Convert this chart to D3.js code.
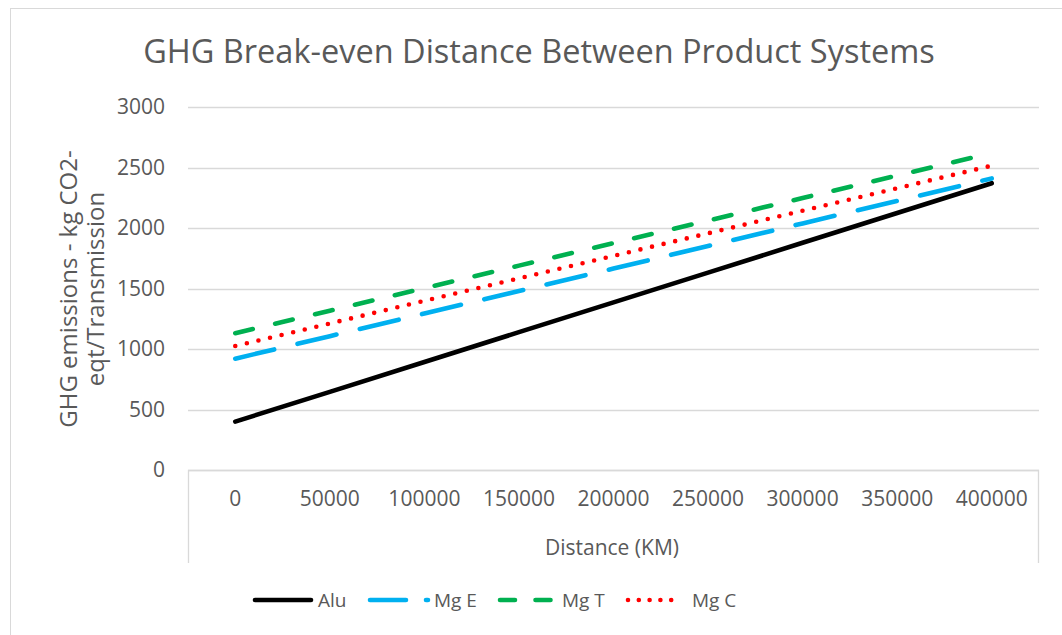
<!DOCTYPE html>
<html>
<head>
<meta charset="utf-8">
<script src="https://cdn.jsdelivr.net/npm/d3@7"></script>
<style>
  body { margin: 0; background: #fff; }
  text { font-family: "Open Sans", sans-serif; fill: #595959; }
</style>
</head>
<body>
<div id="chart"></div>
<script>
// distances (KM) on the category axis
const distances = [0, 50000, 100000, 150000, 200000, 250000, 300000, 350000, 400000];

// GHG emissions, kg CO2-eqt / transmission
const alu = [400, 646, 893, 1139, 1385, 1631, 1878, 2124, 2370];
const mgE = [920, 1106, 1293, 1479, 1665, 1851, 2038, 2224, 2410];
const mgT = [1130, 1316, 1503, 1689, 1875, 2061, 2248, 2434, 2620];
const mgC = [1025, 1211, 1398, 1584, 1770, 1956, 2143, 2329, 2515];

const yTicks = [0, 500, 1000, 1500, 2000, 2500, 3000];

const series = [
    { name: "Alu", values: alu, color: "#000000", dash: null, legendDash: null },
    { name: "Mg E", values: mgE, color: "#00b0f0", dash: "40,24", legendDash: "36,20" },
    { name: "Mg T", values: mgT, color: "#00b050", dash: "18,23", legendDash: "15,20.5" },
    { name: "Mg C", values: mgC, color: "#ff0000", dash: "0,11.9", legendDash: "0,10.8" }
];

let w = 1062;
let h = 635;

let svg = d3.select("#chart")
    .append("svg")
    .attr("width", w)
    .attr("height", h);

// chart area border
svg.append("rect")
    .attr("x", 10.5)
    .attr("y", 8.5)
    .attr("width", w + 10)
    .attr("height", h + 10)
    .attr("fill", "#fff")
    .attr("stroke", "#d9d9d9")
    .attr("stroke-width", 1);

const plotL = 188, plotR = 1039, plotT = 107, plotB = 470;

const x = d3.scaleBand()
    .domain(distances)
    .range([plotL, plotR])
    .padding(0);

const y = d3.scaleLinear()
    .domain([0, 3000])
    .range([plotB, plotT]);

// gridlines
svg.append("g")
    .selectAll("line")
    .data(yTicks)
    .join("line")
    .attr("x1", plotL)
    .attr("x2", plotR)
    .attr("y1", d => Math.round(y(d)) + 0.5)
    .attr("y2", d => Math.round(y(d)) + 0.5)
    .attr("stroke", "#d9d9d9")
    .attr("stroke-width", 1.3);

// y axis labels
const yAxis = svg.append("g")
    .attr("transform", `translate(${plotL},0)`)
    .call(d3.axisLeft(y).tickValues(yTicks).tickFormat(d3.format("d")).tickSize(0).tickPadding(23));
yAxis.select(".domain").remove();
yAxis.selectAll("text")
    .style("font-family", "'Open Sans', sans-serif")
    .style("font-size", "21px")
    .attr("fill", "#595959");

// category axis box
svg.append("path")
    .attr("d", `M${plotL + 0.5},${plotB + 93} V${plotB + 0.5} H${plotR - 0.5} V${plotB + 93}`)
    .attr("fill", "none")
    .attr("stroke", "#d9d9d9")
    .attr("stroke-width", 1.3);

const xAxis = svg.append("g")
    .attr("transform", `translate(0,${plotB})`)
    .call(d3.axisBottom(x).tickFormat(d3.format("d")).tickSize(0).tickPadding(21));
xAxis.select(".domain").remove();
xAxis.selectAll("text")
    .style("font-family", "'Open Sans', sans-serif")
    .style("font-size", "21px")
    .attr("fill", "#595959");

// lines
const line = d3.line()
    .x((d, i) => x(distances[i]) + x.bandwidth() / 2)
    .y(d => y(d));

svg.append("g")
    .selectAll("path")
    .data(series)
    .join("path")
    .attr("d", d => line(d.values))
    .attr("fill", "none")
    .attr("stroke", d => d.color)
    .attr("stroke-width", 4.6)
    .attr("stroke-linecap", "round")
    .attr("stroke-dasharray", d => d.dash);

// title
svg.append("text")
    .attr("x", 539)
    .attr("y", 63)
    .attr("text-anchor", "middle")
    .style("font-size", "32.5px")
    .text("GHG Break-even Distance Between Product Systems");

// axis titles
svg.append("text")
    .attr("x", 612)
    .attr("y", 555)
    .attr("text-anchor", "middle")
    .style("font-size", "21px")
    .text("Distance (KM)");

const yTitle = svg.append("text")
    .attr("transform", "translate(77,289) rotate(-90)")
    .attr("text-anchor", "middle")
    .style("font-size", "24px");
yTitle.append("tspan").attr("x", 0).attr("y", 0).text("GHG emissions - kg CO2-");
yTitle.append("tspan").attr("x", 0).attr("y", 27).text("eqt/Transmission");

// legend
const legendItems = [
    { s: series[0], x0: 255, x1: 311, tx: 318 },
    { s: series[1], x0: 370, x1: 428, tx: 434 },
    { s: series[2], x0: 500, x1: 551, tx: 562 },
    { s: series[3], x0: 628, x1: 682, tx: 692 }
];
const legend = svg.append("g");
legendItems.forEach(d => {
    legend.append("line")
        .attr("x1", d.x0)
        .attr("x2", d.x1)
        .attr("y1", 600)
        .attr("y2", 600)
        .attr("stroke", d.s.color)
        .attr("stroke-width", 4.6)
        .attr("stroke-linecap", "round")
        .attr("stroke-dasharray", d.s.legendDash);
    legend.append("text")
        .attr("x", d.tx)
        .attr("y", 600)
        .attr("dy", "0.35em")
        .style("font-size", "19px")
        .text(d.s.name);
});
</script>
</body>
</html>
